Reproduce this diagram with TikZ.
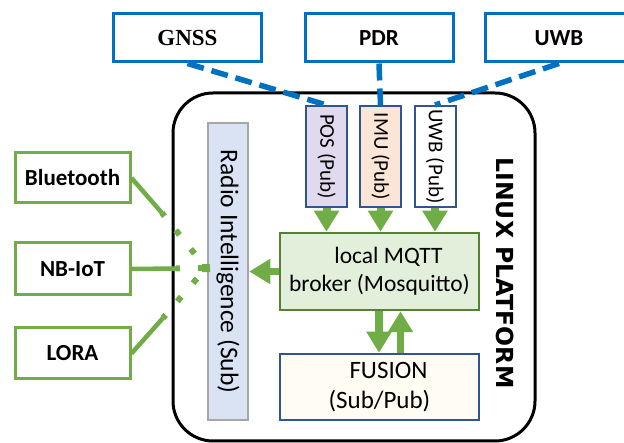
\documentclass[tikz,border=0pt]{standalone}
\usepackage{fontspec}
\setmainfont{Carlito}
\newfontfamily\serifb{Liberation Serif}
\newfontfamily\dejavu{DejaVu Sans}
\usetikzlibrary{arrows.meta}
\definecolor{topblue}{HTML}{0070C0}
\definecolor{lgreen}{HTML}{70AD47}
\definecolor{dgreen}{HTML}{548235}
\definecolor{mqttfill}{HTML}{E2EFDA}
\definecolor{radiofill}{HTML}{DAE3F3}
\definecolor{radioborder}{HTML}{A6A6A6}
\definecolor{pubborder}{HTML}{2F5597}
\definecolor{posfill}{HTML}{E1D9EE}
\definecolor{imufill}{HTML}{FBE5D6}
\definecolor{fusionfill}{HTML}{FFFCF3}
\tikzset{
  topbox/.style={draw=topblue, line width=3pt, fill=white, minimum width=148pt, minimum height=48pt, inner sep=0pt, font=\bfseries\fontsize{23}{27}\selectfont},
  leftbox/.style={draw=lgreen, line width=3pt, fill=white, minimum width=115pt, minimum height=50pt, inner sep=0pt, font=\bfseries\fontsize{23}{27}\selectfont},
  pubbox/.style={draw=pubborder, line width=2pt, minimum width=101pt, minimum height=41pt, inner sep=0pt, rotate=-90, font=\fontsize{21}{25}\selectfont},
  bluedash/.style={draw=topblue, line width=5.5pt, dash pattern=on 17pt off 8pt},
  gline/.style={draw=lgreen, line width=4.5pt},
  gdots/.style={draw=lgreen, line width=6pt, dash pattern=on 6pt off 18pt, dash phase=2pt},
  garrow/.style={draw=lgreen, line width=7.5pt, -{Triangle[width=24pt,length=21pt]}},
  gsmall/.style={draw=lgreen, line width=8pt, -{Triangle[width=24pt,length=21pt]}}
}
\begin{document}
\begin{tikzpicture}[x=1pt,y=-1pt]
\useasboundingbox (0,0) rectangle (624,443);
\clip (0,0) rectangle (624,443);
% platform frame
\draw[line width=3pt, rounded corners=40pt] (173,93) rectangle (535,441);
\node[rotate=-90, font=\dejavu\bfseries\fontsize{23.5}{27}\selectfont] (linux) at (505,273) {LINUX PLATFORM};
% top sources
\node[topbox, font=\serifb\bfseries\fontsize{23}{27}\selectfont] (gnss) at (187.5,38) {GNSS};
\node[topbox] (pdr) at (379,38) {PDR};
\node[topbox] (uwb) at (559,38) {UWB};
% pub boxes
\node[pubbox, fill=posfill] (pos) at (326.5,156.5) {POS (Pub)};
\node[pubbox, fill=imufill] (imu) at (380.5,156.5) {IMU (Pub)};
\node[pubbox, fill=white] (uwbp) at (435,156.5) {UWB (Pub)};
% mqtt, fusion, radio
\node[draw=dgreen, line width=2.5pt, fill=mqttfill, minimum width=199pt, minimum height=77pt, inner sep=0pt, align=center, font=\fontsize{23.5}{28}\selectfont] (mqtt) at (379.5,271.5) {\hspace*{18pt}local MQTT\\broker (Mosquitto)};
\node[draw=pubborder, line width=2.5pt, fill=fusionfill, minimum width=199pt, minimum height=66pt, inner sep=0pt, align=center, font=\fontsize{25}{30}\selectfont] (fusion) at (379.5,387) {\hspace*{18pt}FUSION\\(Sub/Pub)};
\node[draw=radioborder, line width=2.5pt, fill=radiofill, minimum width=297pt, minimum height=40pt, inner sep=0pt, rotate=-90, font=\fontsize{25.5}{30}\selectfont] (radio) at (228,271.5) {Radio Intelligence (Sub)};
% left boxes
\node[leftbox] (bt) at (72.5,178) {Bluetooth};
\node[leftbox, minimum height=52pt] (nb) at (72.5,269) {NB-IoT};
\node[leftbox, minimum height=51pt] (lora) at (72.5,353.5) {LORA};
% dashed blue connectors
\draw[bluedash] (gnss.south) -- (pos.west);
\draw[bluedash] (pdr.south) -- (imu.west);
\draw[bluedash] (uwb.south) -- (uwbp.west);
% green radio links
\coordinate (hub) at (206,268);
\coordinate (btb) at (162,213);
\coordinate (nbb) at (176,268.5);
\coordinate (lob) at (163,318);
\draw[gline] (bt.east) -- (btb);
\draw[gdots] (btb) -- (hub);
\draw[gline] (nb.east) -- (nbb);
\draw[gdots, -{Square[width=8pt,length=8pt,sep=0pt]}] (nbb) -- ([xshift=4pt]hub);
\draw[gline] (lora.east) -- (lob);
\draw[gdots] (lob) -- (hub);
% green arrows
\draw[gsmall] (pos.east) -- (pos.east |- mqtt.north);
\draw[gsmall] (imu.east) -- (imu.east |- mqtt.north);
\draw[gsmall] (uwbp.east) -- (uwbp.east |- mqtt.north);
\draw[garrow] (mqtt.west) -- (radio.north |- mqtt.west);
\draw[garrow] ([xshift=-0.5pt]mqtt.south) -- ([xshift=-0.5pt]fusion.north);
\draw[garrow] ([xshift=21pt]fusion.north) -- ([xshift=21pt]mqtt.south);
\end{tikzpicture}
\end{document}
